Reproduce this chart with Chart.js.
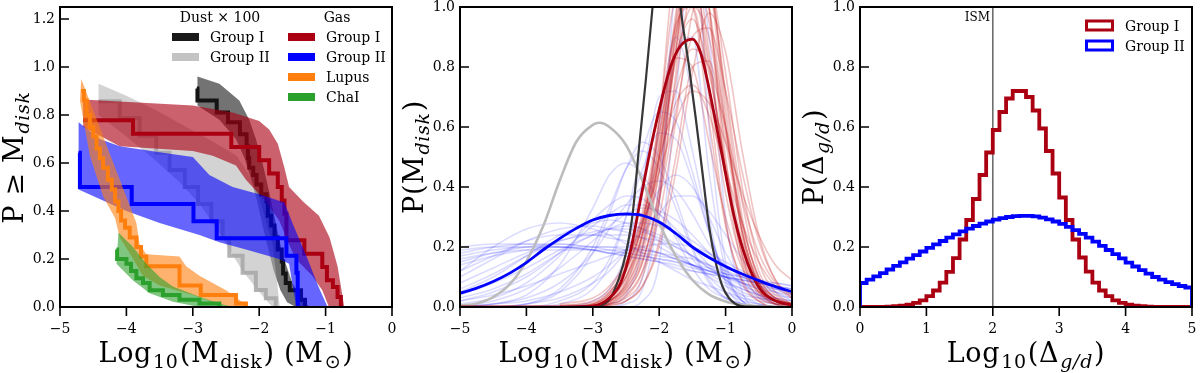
<!DOCTYPE html>
<html>
<head>
<meta charset="utf-8">
<script src="https://cdn.jsdelivr.net/npm/chart.js@4.4.0/dist/chart.umd.min.js"></script>
<style>
  body { margin: 0; background: #fff; width: 1200px; height: 373px; overflow: hidden; position: relative; }
  canvas { position: absolute; top: 0; }
</style>
</head>
<body>
<canvas id="cdf" width="400" height="373" style="left:0"></canvas>
<canvas id="pdf" width="400" height="373" style="left:400px"></canvas>
<canvas id="ratio" width="400" height="373" style="left:800px"></canvas>
<script>
// ---------- panel 1: P >= Mdisk ----------
const cdfXTicks = [-5, -4, -3, -2, -1, 0];
const cdfYTicks = [0, 0.2, 0.4, 0.6, 0.8, 1.0, 1.2];

// dust x 100, Group I (black)
const dustGroupI = [[-2.94,0.91],[-2.93,0.86],[-2.64,0.81],[-2.47,0.77],[-2.29,0.72],[-2.19,0.67],[-2.17,0.62],[-2.15,0.58],[-2.09,0.55],[-2.04,0.51],[-1.97,0.47],[-1.89,0.44],[-1.87,0.38],[-1.82,0.34],[-1.77,0.29],[-1.72,0.24],[-1.66,0.19],[-1.64,0.14],[-1.60,0.10],[-1.54,0.07],[-1.37,0.03],[-1.31,0]];
const dustGroupIHi = [[-2.93,0.96],[-2.6,0.93],[-2.3,0.86],[-2.15,0.78],[-2.05,0.70],[-1.95,0.60],[-1.85,0.48],[-1.75,0.35],[-1.65,0.22],[-1.5,0.10],[-1.35,0.03],[-1.24,0]];
const dustGroupILo = [[-2.93,0.84],[-2.6,0.78],[-2.35,0.70],[-2.22,0.62],[-2.12,0.53],[-2.03,0.44],[-1.95,0.34],[-1.87,0.25],[-1.78,0.15],[-1.68,0.07],[-1.58,0.02],[-1.45,0]];
// dust x 100, Group II (grey)
const dustGroupII = [[-4.42,0.857],[-4.1,0.786],[-3.8,0.714],[-3.55,0.643],[-3.35,0.571],[-3.12,0.5],[-2.92,0.429],[-2.72,0.357],[-2.55,0.286],[-2.45,0.214],[-2.25,0.143],[-2.05,0.071],[-1.9,0.036],[-1.75,0]];
const dustGroupIIHi = [[-4.42,0.93],[-4.0,0.88],[-3.55,0.82],[-3.1,0.75],[-2.7,0.69],[-2.34,0.63],[-2.15,0.55],[-1.99,0.45],[-1.79,0.25],[-1.69,0]];
const dustGroupIILo = [[-4.42,0.80],[-4.0,0.71],[-3.6,0.62],[-3.2,0.52],[-2.9,0.43],[-2.65,0.33],[-2.45,0.24],[-2.25,0.15],[-2.05,0.08],[-1.9,0.03],[-1.8,0]];
// gas, Group I (dark red)
const gasGroupI = [[-4.65,0.778],[-3.9,0.722],[-2.42,0.667],[-2.0,0.611],[-1.85,0.556],[-1.72,0.5],[-1.66,0.444],[-1.62,0.389],[-1.59,0.278],[-1.32,0.222],[-1.05,0.167],[-0.98,0.111],[-0.89,0.083],[-0.82,0.042],[-0.77,0]];
const gasGroupIHi = [[-4.65,0.865],[-3.0,0.84],[-2.4,0.81],[-2.0,0.775],[-1.85,0.74],[-1.72,0.68],[-1.62,0.58],[-1.55,0.5],[-1.34,0.44],[-1.1,0.38],[-0.94,0.29],[-0.82,0.17],[-0.76,0.07],[-0.72,0]];
const gasGroupILo = [[-4.65,0.75],[-4.1,0.67],[-3.0,0.65],[-2.7,0.63],[-2.35,0.59],[-2.2,0.53],[-1.9,0.44],[-1.7,0.36],[-1.55,0.26],[-1.45,0.2],[-1.2,0.13],[-1.05,0.07],[-0.95,0]];
// gas, Group II (blue)
const gasGroupII = [[-4.72,0.643],[-4.70,0.5],[-3.92,0.429],[-2.99,0.357],[-2.64,0.286],[-1.59,0.214],[-1.44,0.143],[-1.42,0]];
const gasGroupIIHi = [[-4.72,0.77],[-4.4,0.70],[-4.1,0.67],[-3.5,0.645],[-3.0,0.625],[-2.75,0.55],[-2.4,0.50],[-2.0,0.47],[-1.62,0.435],[-1.5,0.35],[-1.3,0.22],[-1.1,0.08],[-0.97,0]];
const gasGroupIILo = [[-4.72,0.49],[-4.0,0.40],[-3.5,0.35],[-2.9,0.30],[-2.6,0.27],[-2.2,0.24],[-1.7,0.20],[-1.55,0.18],[-1.48,0.06],[-1.44,0]];
// Lupus (orange)
const lupus = [[-4.68,0.90],[-4.64,0.86],[-4.60,0.80],[-4.55,0.75],[-4.50,0.71],[-4.45,0.66],[-4.40,0.62],[-4.35,0.58],[-4.28,0.53],[-4.22,0.49],[-4.17,0.44],[-4.12,0.40],[-4.08,0.36],[-4.02,0.33],[-3.95,0.29],[-3.85,0.25],[-3.78,0.21],[-3.70,0.17],[-3.20,0.09],[-2.88,0.05],[-2.35,0.015],[-2.2,0]];
const lupusHi = [[-4.68,0.95],[-4.5,0.82],[-4.35,0.71],[-4.1,0.53],[-3.85,0.35],[-3.8,0.26],[-3.7,0.22],[-3.2,0.21],[-3.1,0.17],[-2.9,0.13],[-2.5,0.07],[-2.3,0.03],[-2.17,0]];
const lupusLo = [[-4.7,0.86],[-4.55,0.63],[-4.35,0.46],[-4.17,0.37],[-4.1,0.29],[-3.92,0.21],[-3.75,0.13],[-3.5,0.09],[-3.0,0.05],[-2.6,0.01],[-2.4,0]];
// ChaI (green)
const chaI = [[-4.15,0.24],[-4.14,0.20],[-4.0,0.18],[-3.93,0.15],[-3.85,0.12],[-3.75,0.10],[-3.65,0.07],[-3.45,0.05],[-3.2,0.03],[-2.9,0.015],[-2.6,0]];
const chaIHi = [[-4.12,0.31],[-3.9,0.25],[-3.7,0.18],[-3.5,0.125],[-3.3,0.085],[-2.9,0.043],[-2.6,0.015],[-2.39,0]];
const chaILo = [[-4.15,0.18],[-3.9,0.11],[-3.65,0.057],[-3.3,0.022],[-2.9,0]];

// ---------- panel 2: P(Mdisk) ----------
const pdfXTicks = [-5, -4, -3, -2, -1, 0];
const pdfYTicks = [0, 0.2, 0.4, 0.6, 0.8, 1.0];
const dustGroupIPdf = [[-5,0],[-3.5,0],[-3.0,0.002],[-2.75,0.025],[-2.6,0.10],[-2.5,0.18],[-2.4,0.31],[-2.3,0.54],[-2.2,0.76],[-2.1,1.0],[-2.0,1.22],[-1.88,1.35],[-1.77,1.2],[-1.68,1.0],[-1.55,0.80],[-1.45,0.63],[-1.35,0.45],[-1.25,0.27],[-1.15,0.15],[-1.05,0.07],[-0.95,0.03],[-0.85,0.01],[-0.7,0.001],[0,0]];
const dustGroupIIPdf = [[-5,0.004],[-4.75,0.012],[-4.5,0.033],[-4.25,0.076],[-4,0.153],[-3.75,0.268],[-3.5,0.42],[-3.25,0.55],[-3,0.607],[-2.9,0.614],[-2.75,0.60],[-2.5,0.54],[-2.25,0.42],[-2,0.28],[-1.75,0.17],[-1.5,0.09],[-1.25,0.042],[-1,0.018],[-0.75,0.007],[-0.5,0.003],[-0.25,0.001],[0,0]];
const gasGroupIPdf = [[-5,0],[-3.5,0],[-3.0,0.003],[-2.75,0.03],[-2.58,0.08],[-2.43,0.19],[-2.28,0.36],[-2.08,0.58],[-1.83,0.80],[-1.68,0.87],[-1.5,0.893],[-1.38,0.85],[-1.27,0.75],[-1.07,0.525],[-0.87,0.30],[-0.67,0.147],[-0.47,0.057],[-0.22,0.018],[0,0.007]];
const gasGroupIIPdf = [[-5,0.046],[-4.75,0.063],[-4.5,0.085],[-4.25,0.113],[-4,0.148],[-3.75,0.19],[-3.5,0.228],[-3.25,0.262],[-3,0.29],[-2.75,0.305],[-2.5,0.31],[-2.25,0.305],[-2,0.283],[-1.75,0.245],[-1.5,0.2],[-1.25,0.165],[-1,0.135],[-0.75,0.11],[-0.5,0.088],[-0.25,0.068],[0,0.051]];
// posterior draws (faint lines)
const drawGridII = [-5,-4.5,-4,-3.5,-3,-2.75,-2.5,-2.25,-2,-1.75,-1.5,-1.25,-1,-0.75,-0.5,-0.25,0];
const gasGroupIIDraws = [
  [0.17,0.19,0.20,0.20,0.19,0.18,0.17,0.16,0.15,0.14,0.12,0.11,0.10,0.09,0.08,0.07,0.06],
  [0.15,0.18,0.20,0.21,0.20,0.20,0.19,0.18,0.17,0.16,0.14,0.13,0.11,0.10,0.08,0.07,0.06],
  [0.19,0.20,0.20,0.20,0.19,0.18,0.18,0.17,0.16,0.15,0.14,0.12,0.11,0.10,0.09,0.08,0.07],
  [0.10,0.16,0.22,0.26,0.27,0.26,0.25,0.23,0.20,0.17,0.14,0.11,0.08,0.06,0.04,0.03,0.02],
  [0.05,0.10,0.17,0.24,0.28,0.29,0.28,0.26,0.22,0.18,0.14,0.10,0.07,0.04,0.03,0.02,0.01],
  [0.12,0.17,0.22,0.24,0.24,0.23,0.22,0.20,0.18,0.16,0.14,0.12,0.10,0.08,0.06,0.05,0.04],
  [0.02,0.05,0.10,0.18,0.27,0.31,0.34,0.34,0.31,0.26,0.20,0.14,0.09,0.05,0.03,0.02,0.01],
  [0.00,0.01,0.04,0.14,0.33,0.44,0.48,0.44,0.35,0.23,0.13,0.06,0.03,0.01,0.00,0.00,0.00],
  [0.00,0.01,0.03,0.08,0.18,0.26,0.34,0.40,0.42,0.39,0.31,0.21,0.13,0.07,0.03,0.01,0.00],
  [0,0,0,0.01,0.06,0.14,0.30,0.52,0.65,0.62,0.45,0.25,0.10,0.03,0.01,0,0],
  [0,0,0,0,0.02,0.06,0.18,0.42,0.70,0.72,0.52,0.26,0.09,0.02,0,0,0],
  [0,0.01,0.02,0.05,0.10,0.14,0.19,0.25,0.31,0.37,0.37,0.32,0.24,0.16,0.09,0.05,0.02],
  [0,0,0,0,0,0,0.01,0.06,0.35,1.1,1.3,0.6,0.15,0.02,0,0,0],
  [0,0,0,0,0,0.01,0.04,0.2,0.6,0.9,0.7,0.3,0.08,0.01,0,0,0],
  [0.02,0.04,0.07,0.11,0.15,0.17,0.19,0.20,0.21,0.21,0.20,0.18,0.15,0.12,0.09,0.06,0.04],
  [0.00,0.02,0.06,0.13,0.22,0.27,0.31,0.33,0.32,0.29,0.24,0.18,0.12,0.08,0.04,0.02,0.01],
  [0,0,0.01,0.05,0.18,0.31,0.46,0.55,0.50,0.36,0.20,0.09,0.03,0.01,0,0,0],
  [0.08,0.13,0.18,0.22,0.24,0.24,0.24,0.23,0.22,0.20,0.17,0.14,0.11,0.08,0.06,0.04,0.03],
  [0.03,0.06,0.11,0.18,0.24,0.26,0.27,0.26,0.24,0.21,0.17,0.13,0.09,0.06,0.04,0.02,0.01],
  [0,0,0,0,0,0,0,0.02,0.15,0.7,1.2,0.9,0.3,0.05,0,0,0],
  [0.18,0.20,0.21,0.21,0.20,0.19,0.18,0.17,0.16,0.15,0.13,0.12,0.10,0.09,0.08,0.07,0.06],
  [0.14,0.17,0.19,0.20,0.20,0.20,0.20,0.19,0.18,0.16,0.14,0.12,0.10,0.08,0.07,0.06,0.05],
  [0.20,0.21,0.21,0.20,0.19,0.18,0.17,0.16,0.15,0.13,0.12,0.11,0.10,0.09,0.08,0.08,0.07],
  [0,0,0,0.02,0.08,0.16,0.30,0.46,0.58,0.56,0.42,0.25,0.11,0.04,0.01,0,0],
  [0,0,0.01,0.03,0.08,0.12,0.19,0.29,0.39,0.44,0.40,0.30,0.18,0.09,0.04,0.01,0],
  [0.01,0.03,0.08,0.17,0.29,0.34,0.37,0.36,0.31,0.24,0.16,0.10,0.05,0.02,0.01,0,0],
  [0.06,0.11,0.17,0.22,0.25,0.26,0.26,0.25,0.23,0.20,0.17,0.13,0.10,0.07,0.05,0.03,0.02],
  [0,0,0,0,0,0,0.02,0.10,0.40,0.85,0.90,0.45,0.12,0.02,0,0,0],
  [0.12,0.20,0.26,0.28,0.26,0.24,0.21,0.18,0.15,0.12,0.09,0.07,0.05,0.03,0.02,0.01,0.01],
  [0.04,0.08,0.13,0.19,0.24,0.26,0.28,0.28,0.27,0.25,0.22,0.18,0.14,0.10,0.07,0.05,0.03],
  [0,0,0.01,0.06,0.20,0.33,0.46,0.52,0.46,0.33,0.19,0.08,0.03,0.01,0,0,0],
  [0.16,0.18,0.19,0.19,0.19,0.19,0.19,0.19,0.18,0.17,0.16,0.14,0.12,0.10,0.08,0.06,0.05]
];
const drawGridI = [-3.5,-3,-2.75,-2.5,-2.25,-2,-1.75,-1.5,-1.25,-1,-0.75,-0.5,-0.25,0];
const gasGroupIDraws = [
  [0,0.005,0.03,0.10,0.25,0.52,0.90,1.15,0.95,0.60,0.28,0.10,0.03,0.01],
  [0,0.003,0.02,0.07,0.2,0.5,0.98,1.2,0.85,0.45,0.17,0.05,0.01,0],
  [0,0.005,0.02,0.06,0.16,0.36,0.65,0.9,0.93,0.72,0.45,0.22,0.09,0.04],
  [0,0.01,0.05,0.13,0.30,0.58,0.83,0.80,0.55,0.3,0.13,0.05,0.02,0.01],
  [0,0,0.01,0.03,0.1,0.35,0.95,1.4,1.0,0.45,0.14,0.03,0.01,0],
  [0,0,0.01,0.04,0.12,0.3,0.62,0.98,1.08,0.78,0.40,0.15,0.05,0.01],
  [0.005,0.02,0.06,0.15,0.30,0.50,0.68,0.74,0.64,0.46,0.28,0.15,0.07,0.03],
  [0,0.002,0.01,0.05,0.15,0.40,0.85,1.25,1.15,0.66,0.26,0.07,0.02,0],
  [0,0.01,0.04,0.12,0.28,0.58,0.92,1.05,0.80,0.46,0.2,0.08,0.03,0.01],
  [0,0,0.005,0.02,0.07,0.2,0.45,0.78,0.98,0.85,0.52,0.24,0.09,0.03],
  [0,0.005,0.03,0.1,0.28,0.62,1.02,1.0,0.62,0.27,0.09,0.02,0,0],
  [0.01,0.03,0.07,0.15,0.28,0.45,0.62,0.72,0.68,0.55,0.38,0.24,0.14,0.09],
  [0,0.003,0.02,0.08,0.25,0.62,1.15,1.2,0.7,0.28,0.08,0.02,0,0],
  [0,0,0.005,0.02,0.07,0.22,0.5,0.8,0.82,0.55,0.25,0.08,0.02,0.005],
  [0,0.004,0.025,0.09,0.24,0.55,0.95,1.1,0.82,0.45,0.18,0.06,0.02,0.005],
  [0,0.002,0.015,0.06,0.18,0.45,0.85,1.15,1.0,0.6,0.25,0.08,0.02,0.005],
  [0,0.008,0.04,0.12,0.28,0.54,0.84,0.96,0.78,0.48,0.22,0.08,0.03,0.01],
  [0,0,0.008,0.035,0.12,0.35,0.78,1.2,1.1,0.62,0.24,0.06,0.01,0],
  [0.005,0.015,0.05,0.13,0.27,0.48,0.72,0.86,0.80,0.60,0.36,0.18,0.08,0.04],
  [0,0.004,0.02,0.08,0.22,0.5,0.9,1.3,1.0,0.5,0.17,0.04,0.01,0],
  [0,0.006,0.03,0.1,0.24,0.5,0.82,1.0,0.9,0.58,0.28,0.1,0.03,0.01],
  [0,0.003,0.015,0.05,0.15,0.38,0.75,1.05,1.05,0.72,0.35,0.12,0.04,0.01],
  [0,0.01,0.045,0.14,0.32,0.62,0.94,1.0,0.72,0.38,0.15,0.05,0.015,0.005],
  [0,0.004,0.02,0.07,0.2,0.46,0.86,1.2,1.1,0.7,0.3,0.09,0.02,0.005]
];

// ---------- panel 3: P(gas-to-dust) ----------
const ratioXTicks = [0, 1, 2, 3, 4, 5];
const ratioYTicks = [0, 0.2, 0.4, 0.6, 0.8, 1.0];
const ratioRange = [0, 5];
const ismLevel = 2;
const ratioGroupI = [0.0001,0.0002,0.0003,0.0007,0.0014,0.0025,0.0046,0.008,0.014,0.022,
  0.036,0.055,0.081,0.117,0.163,0.225,0.29,0.36,0.44,0.515,
  0.59,0.65,0.695,0.72,0.72,0.70,0.655,0.595,0.52,0.445,
  0.365,0.29,0.225,0.165,0.118,0.081,0.055,0.036,0.022,0.014,
  0.008,0.0046,0.0025,0.0014,0.0007,0.0003,0.0002,0.0001,0,0];
const ratioGroupII = [0.080,0.091,0.102,0.113,0.125,0.137,0.149,0.161,0.173,0.185,
  0.197,0.209,0.220,0.231,0.242,0.252,0.261,0.270,0.278,0.285,
  0.291,0.296,0.300,0.303,0.304,0.304,0.302,0.298,0.292,0.285,
  0.277,0.267,0.256,0.244,0.231,0.218,0.204,0.190,0.176,0.162,
  0.148,0.135,0.123,0.111,0.100,0.091,0.083,0.076,0.070,0.065];

// ---------- colours ----------
const RED = 'rgb(170,0,18)';
const BLUE = 'rgb(0,0,255)';
const ORANGE = 'rgb(255,127,14)';
const GREEN = 'rgb(44,160,44)';
const SERIF = "'DejaVu Serif', 'Liberation Serif', serif";

// ---------- helpers ----------
const pts = arr => arr.map(([x, y]) => ({x, y}));

function band(hi, lo, color) {
  return { data: pts(hi.concat(lo.slice().reverse())), fill: 'shape', backgroundColor: color,
    borderWidth: 0, pointRadius: 0, showLine: true };
}
function steps(arr, color, width) {
  return { data: pts(arr), stepped: 'before', borderColor: color, borderWidth: width,
    pointRadius: 0, showLine: true, fill: false };
}
function curve(xs, ys, color, width) {
  return { data: xs.map((x, i) => ({x, y: ys[i]})), borderColor: color, borderWidth: width,
    pointRadius: 0, showLine: true, fill: false, cubicInterpolationMode: 'monotone' };
}
function histogram(values, color) {
  const w = (ratioRange[1] - ratioRange[0]) / values.length;
  const data = [{x: ratioRange[0], y: 0}];
  values.forEach((v, i) => data.push({x: ratioRange[0] + i * w, y: v}));
  data.push({x: ratioRange[1], y: values[values.length - 1]});
  data.push({x: ratioRange[1], y: 0});
  return { data, stepped: 'before', borderColor: color, borderWidth: 3.8, pointRadius: 0, showLine: true, fill: false };
}

// text with subscripts: parts = [[text, kind]], kind '' | 's' (sub) | 'si' (italic sub) | 'sym' (sun symbol)
function richText(ctx, parts, x, y, size, rotated) {
  ctx.save();
  ctx.translate(x, y);
  if (rotated) ctx.rotate(-Math.PI / 2);
  ctx.textBaseline = 'alphabetic';
  ctx.textAlign = 'left';
  ctx.fillStyle = '#000';
  ctx.letterSpacing = '0.7px';
  const fontOf = p => {
    if (p[1] === 'sym') return Math.round(size * 0.72) + "px 'DejaVu Sans', sans-serif";
    return (p[1] === 'si' ? 'italic ' : '') + Math.round(p[1] ? size * 0.7 : size) + 'px ' + SERIF;
  };
  const widths = parts.map(p => { ctx.font = fontOf(p); return ctx.measureText(p[0]).width + (p[1] ? 2 : 0); });
  let cx = -widths.reduce((a, b) => a + b, 0) / 2;
  parts.forEach((p, i) => {
    ctx.font = fontOf(p);
    ctx.fillText(p[0], cx + (p[1] ? 1 : 0), p[1] ? size * 0.22 : 0);
    cx += widths[i];
  });
  ctx.restore();
}

const minus = v => (v < 0 ? '\u2212' + Math.abs(v) : String(v));

function decor(opts) {
  return {
    id: 'decor',
    afterDraw(chart) {
      const {ctx, chartArea: a, scales: {x, y}} = chart;
      ctx.save();
      ctx.strokeStyle = '#000';
      ctx.lineWidth = 1.6;
      ctx.beginPath();
      opts.xTicks.forEach(v => { const px = x.getPixelForValue(v); ctx.moveTo(px, a.bottom); ctx.lineTo(px, a.bottom + 9); });
      opts.yTicks.forEach(v => { const py = y.getPixelForValue(v); ctx.moveTo(a.left, py); ctx.lineTo(a.left + 9, py); });
      ctx.stroke();
      ctx.lineWidth = 2;
      ctx.strokeRect(a.left, a.top, a.right - a.left, a.bottom - a.top);
      ctx.fillStyle = '#000';
      ctx.font = '14px ' + SERIF;
      ctx.textAlign = 'center';
      ctx.textBaseline = 'alphabetic';
      opts.xTicks.forEach(v => ctx.fillText(minus(v), x.getPixelForValue(v), 333));
      ctx.textAlign = 'right';
      ctx.textBaseline = 'middle';
      opts.yTicks.forEach(v => ctx.fillText(v.toFixed(1), a.left - 5, y.getPixelForValue(v)));
      ctx.restore();
      richText(ctx, opts.xTitle, (a.left + a.right) / 2, 362, 27, false);
      richText(ctx, opts.yTitle, 23, (a.top + a.bottom) / 2, 27, true);
      if (opts.extra) opts.extra(ctx);
    }
  };
}

function scales(xr, yr, xTicks, yTicks) {
  const common = { type: 'linear', grid: {display: false}, border: {display: false}, ticks: {display: false} };
  return {
    x: Object.assign({}, common, { min: xr[0], max: xr[1],
      afterBuildTicks: s => { s.ticks = xTicks.map(v => ({value: v})); },
      afterFit: s => { s.height = 66; } }),
    y: Object.assign({}, common, { min: yr[0], max: yr[1],
      afterBuildTicks: s => { s.ticks = yTicks.map(v => ({value: v})); },
      afterFit: s => { s.width = 60; } })
  };
}

function baseOptions(xr, yr, xTicks, yTicks) {
  return {
    responsive: false, animation: false, devicePixelRatio: 1,
    layout: { padding: { top: 7, right: 8, left: 0, bottom: 0 } },
    plugins: { legend: {display: false}, tooltip: {enabled: false} },
    scales: scales(xr, yr, xTicks, yTicks)
  };
}

const massTitle = [['Log', ''], ['10', 's'], ['(M', ''], ['disk', 's'], [') (M', ''], ['\u2299', 'sym'], [')', '']];

// ---------- panel 1 ----------
function cdfLegend(ctx) {
  ctx.save();
  ctx.font = '14px ' + SERIF;
  ctx.fillStyle = '#000';
  ctx.textBaseline = 'alphabetic';
  ctx.textAlign = 'center';
  ctx.fillText('Dust \u00d7 100', 220, 22);
  ctx.fillText('Gas', 337, 22);
  const rows = [
    [172, 37, 'rgb(25,25,25)', 'Group I'], [172, 57, 'rgb(195,195,195)', 'Group II'],
    [288, 37, RED, 'Group I'], [288, 57, BLUE, 'Group II'],
    [288, 77, ORANGE, 'Lupus'], [288, 97, GREEN, 'ChaI']
  ];
  ctx.textAlign = 'left';
  rows.forEach(([sx, cy, col, label]) => {
    ctx.fillStyle = col;
    ctx.fillRect(sx, cy - 4, 27, 8);
    ctx.fillStyle = '#000';
    ctx.fillText(label, sx + 38, cy + 5);
  });
  ctx.restore();
}

new Chart(document.getElementById('cdf'), {
  type: 'scatter',
  data: { datasets: [
    band(dustGroupIHi, dustGroupILo, 'rgba(0,0,0,0.55)'),
    steps(dustGroupI, 'rgb(20,20,20)', 4),
    band(dustGroupIIHi, dustGroupIILo, 'rgba(175,175,175,0.55)'),
    steps(dustGroupII, 'rgba(170,170,170,0.9)', 4),
    band(gasGroupIHi, gasGroupILo, 'rgba(170,0,18,0.62)'),
    steps(gasGroupI, RED, 4),
    band(gasGroupIIHi, gasGroupIILo, 'rgba(0,0,255,0.6)'),
    steps(gasGroupII, BLUE, 4),
    band(lupusHi, lupusLo, 'rgba(255,127,14,0.6)'),
    steps(lupus, ORANGE, 4),
    band(chaIHi, chaILo, 'rgba(44,160,44,0.6)'),
    steps(chaI, GREEN, 4)
  ].map((d, i, all) => Object.assign(d, {order: all.length - i})) },
  options: baseOptions([-5, 0], [0, 1.25], cdfXTicks, cdfYTicks),
  plugins: [decor({
    xTicks: cdfXTicks, yTicks: cdfYTicks,
    xTitle: massTitle,
    yTitle: [['P \u2265 M', ''], ['disk', 'si']],
    extra: cdfLegend
  })]
});

// ---------- panel 2 ----------
const pdfSets = [];
gasGroupIIDraws.forEach(ys => pdfSets.push(curve(drawGridII, ys, 'rgba(0,0,255,0.14)', 1.6)));
gasGroupIDraws.forEach(ys => pdfSets.push(curve(drawGridI, ys, 'rgba(190,0,0,0.23)', 1.6)));
const mainPdf = (arr, color, w) => curve(arr.map(p => p[0]), arr.map(p => p[1]), color, w);
pdfSets.push(mainPdf(dustGroupIIPdf, 'rgb(188,188,188)', 2.6));
pdfSets.push(mainPdf(dustGroupIPdf, 'rgb(55,55,55)', 2.2));
pdfSets.push(mainPdf(gasGroupIPdf, RED, 2.8));
pdfSets.push(mainPdf(gasGroupIIPdf, BLUE, 2.8));

new Chart(document.getElementById('pdf'), {
  type: 'scatter',
  data: { datasets: pdfSets.map((d, i, all) => Object.assign(d, {order: all.length - i})) },
  options: baseOptions([-5, 0], [0, 1], pdfXTicks, pdfYTicks),
  plugins: [decor({
    xTicks: pdfXTicks, yTicks: pdfYTicks,
    xTitle: massTitle,
    yTitle: [['P(M', ''], ['disk', 'si'], [')', '']]
  })]
});

// ---------- panel 3 ----------
function ratioLegend(ctx) {
  ctx.save();
  ctx.font = '12px ' + SERIF;
  ctx.fillStyle = '#000';
  ctx.textAlign = 'right';
  ctx.fillText('ISM', 190, 21);
  ctx.font = '14px ' + SERIF;
  ctx.textAlign = 'left';
  [[25.5, RED, 'Group I'], [45.5, BLUE, 'Group II']].forEach(([cy, col, label]) => {
    ctx.strokeStyle = col;
    ctx.lineWidth = 3;
    ctx.strokeRect(286.5, cy - 4.5, 26, 9);
    ctx.fillText(label, 325, cy + 5);
  });
  ctx.restore();
}

new Chart(document.getElementById('ratio'), {
  type: 'scatter',
  data: { datasets: [
    { data: [{x: ismLevel, y: 0}, {x: ismLevel, y: 1}], borderColor: 'rgb(110,110,110)', borderWidth: 1.6,
      pointRadius: 0, showLine: true, fill: false },
    histogram(ratioGroupI, RED),
    histogram(ratioGroupII, BLUE)
  ].map((d, i, all) => Object.assign(d, {order: all.length - i})) },
  options: baseOptions(ratioRange, [0, 1], ratioXTicks, ratioYTicks),
  plugins: [decor({
    xTicks: ratioXTicks, yTicks: ratioYTicks,
    xTitle: [['Log', ''], ['10', 's'], ['(\u0394', ''], ['g/d', 'si'], [')', '']],
    yTitle: [['P(\u0394', ''], ['g/d', 'si'], [')', '']],
    extra: ratioLegend
  })]
});
</script>
</body>
</html>
